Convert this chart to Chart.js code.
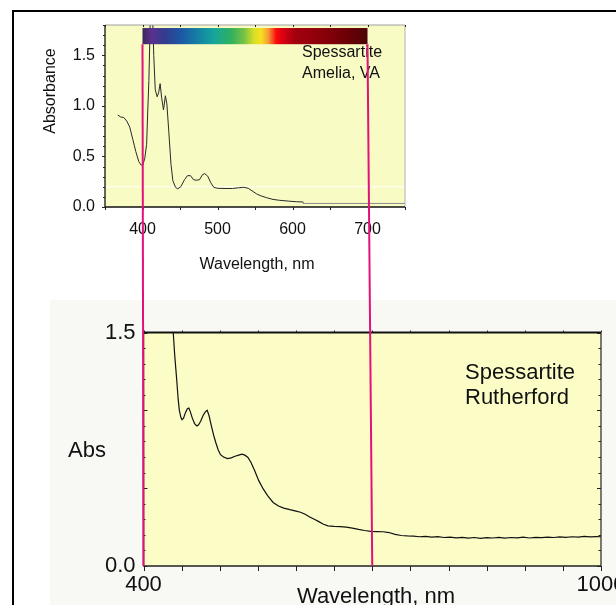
<!DOCTYPE html>
<html>
<head>
<meta charset="utf-8">
<script src="https://cdn.jsdelivr.net/npm/chart.js@4.4.0/dist/chart.umd.min.js"></script>
<style>
  html, body { margin: 0; padding: 0; background: #fff; }
  #page { position: relative; width: 616px; height: 605px; overflow: hidden; }
  #frame { position: absolute; left: 12px; top: 10px; right: -10px; bottom: -10px;
           border-left: 2px solid #000; border-top: 2px solid #000; }
  #inset { position: absolute; left: 0; top: 0; }
  #main { position: absolute; left: 50px; top: 300px; background: #f8f9f4; }
  #links { position: absolute; left: 0; top: 0; pointer-events: none; }
</style>
</head>
<body>
<div id="page">
  <div id="frame"></div>
  <canvas id="main" width="566" height="305"></canvas>
  <canvas id="inset" width="420" height="290"></canvas>
  <canvas id="links" width="616" height="605"></canvas>
</div>
<script>
// --- data ---
// small inset: Spessartite, Amelia VA
const insetWavelength = [367, 371, 375, 379, 383, 387, 391, 395, 398, 400.5, 403, 405.5, 407, 408.5, 410.5, 413, 415, 417,
  419.5, 421.5, 423.5, 425.5, 428, 430.5, 432.5, 435, 438, 440.5, 444, 447, 451, 456, 460, 464, 468, 472, 476, 480, 483,
  487, 491, 495, 500, 510, 520, 528, 535, 541, 546, 552, 558, 565, 574, 583, 595, 605, 614, 614.5, 750];
const insetAbs = [0.91, 0.89, 0.885, 0.85, 0.79, 0.67, 0.55, 0.45, 0.415, 0.415, 0.48, 0.62, 0.95, 1.25, 1.9, 2.0, 1.5, 1.16,
  1.09, 1.13, 1.22, 1.08, 0.96, 1.1, 1.02, 0.75, 0.42, 0.26, 0.195, 0.18, 0.2, 0.27, 0.31, 0.31, 0.27, 0.265, 0.27, 0.32, 0.33,
  0.305, 0.24, 0.195, 0.185, 0.183, 0.183, 0.19, 0.195, 0.185, 0.16, 0.13, 0.11, 0.093, 0.075, 0.066, 0.058, 0.052, 0.05, 0.035, 0.035];
const insetRefLevel = [0.2, 0.2];
const insetXTickLabels = ['400', '500', '600', '700'];
const insetYTickLabels = ['0.0', '0.5', '1.0', '1.5'];

// main panel: Spessartite, Rutherford
const mainWavelength = [435, 439, 441, 443.5, 445.5, 447, 449, 450.5, 452.5, 455, 457.5, 459.5, 461.5, 464, 467, 470, 472, 475,
  478, 481, 483.5, 486, 489, 492, 495, 498, 501, 505, 510, 515, 520, 525, 529, 533, 537, 541, 546, 551, 557, 563, 570, 577,
  584, 592, 600, 606, 612, 618, 624, 630, 636, 642, 650, 658, 666, 674, 682, 690, 698, 706, 714, 722, 730, 738, 746, 754,
  762, 770, 778, 786, 794, 802, 810, 818, 826, 834, 842, 850, 858, 866, 874, 882, 890, 898, 906, 914, 922, 930, 938, 946,
  954, 962, 970, 978, 986, 994, 1000];
const mainAbs = [1.8, 1.5, 1.35, 1.2, 1.07, 1.0, 0.955, 0.94, 0.95, 0.985, 1.01, 1.015, 0.99, 0.95, 0.915, 0.9, 0.905, 0.93,
  0.965, 0.99, 1.0, 0.965, 0.9, 0.84, 0.79, 0.745, 0.715, 0.7, 0.69, 0.695, 0.705, 0.712, 0.718, 0.712, 0.697, 0.665, 0.61,
  0.55, 0.495, 0.45, 0.408, 0.385, 0.372, 0.362, 0.353, 0.345, 0.332, 0.315, 0.3, 0.285, 0.268, 0.258, 0.255, 0.253, 0.25,
  0.243, 0.235, 0.228, 0.222, 0.221, 0.22, 0.215, 0.203, 0.196, 0.193, 0.192, 0.188, 0.19, 0.186, 0.189, 0.183, 0.186, 0.181,
  0.184, 0.179, 0.183, 0.178, 0.182, 0.18, 0.184, 0.179, 0.183, 0.181, 0.185, 0.18, 0.184, 0.182, 0.186, 0.183, 0.187,
  0.184, 0.188, 0.186, 0.19, 0.187, 0.189, 0.188];
const mainXTickLabels = ['400', '1000'];
const mainYTickLabels = ['0.0', '1.5'];

// visible-spectrum strip and the two guide wavelengths
const spectrumNm = [400, 412, 430, 452, 478, 496, 518, 535, 549, 558, 567, 574, 578, 586, 603, 640, 675, 700];
const spectrumColors = ['#3b2658', '#5a3190', '#313c8d', '#1d59a4', '#1388a3', '#16a69a', '#30b05e', '#74c245', '#d9df27',
  '#f6e01e', '#f4a334', '#f44a22', '#ff0a0a', '#de0012', '#a3000f', '#8a0008', '#690006', '#4c0406'];
const spectrumBand = [1.61, 1.77];
const linkNm = [400, 700];

const FONT = 'Liberation Sans, Arial, Helvetica, sans-serif';

function pickLabel(list, value) {
  const hit = list.find(s => Math.abs(parseFloat(s) - value) < 1e-6);
  return hit === undefined ? '' : hit;
}

function toPoints(xs, ys) {
  return xs.map((x, i) => ({ x: x, y: ys[i] }));
}

function drawTicks(chart, spec) {
  const ctx = chart.ctx, a = chart.chartArea;
  const scale = chart.scales[spec.axis];
  ctx.save();
  ctx.strokeStyle = '#222';
  ctx.lineWidth = 1;
  ctx.beginPath();
  scale.ticks.forEach(t => {
    const p = Math.round(scale.getPixelForValue(t.value)) + 0.5;
    const r = t.value / spec.majorEvery;
    const len = Math.abs(r - Math.round(r)) < 1e-6 ? spec.major : spec.minor;
    const d = spec.dir * len;
    if (spec.side === 'bottom') { ctx.moveTo(p, a.bottom); ctx.lineTo(p, a.bottom + d); }
    if (spec.side === 'top') { ctx.moveTo(p, a.top); ctx.lineTo(p, a.top - d); }
    if (spec.side === 'left') { ctx.moveTo(a.left, p); ctx.lineTo(a.left - d, p); }
    if (spec.side === 'right') { ctx.moveTo(a.right, p); ctx.lineTo(a.right + d, p); }
  });
  ctx.stroke();
  ctx.restore();
}

const plotDecor = {
  id: 'plotDecor',
  beforeDraw(chart, args, opts) {
    const a = chart.chartArea, ctx = chart.ctx;
    ctx.save();
    ctx.fillStyle = opts.plotBg;
    ctx.fillRect(a.left, a.top, a.right - a.left, a.bottom - a.top);
    ctx.restore();
  },
  afterDatasetsDraw(chart, args, opts) {
    const a = chart.chartArea, ctx = chart.ctx;
    if (opts.spectrum) {
      const xs = chart.scales.x, ys = chart.scales.y;
      const x0 = xs.getPixelForValue(spectrumNm[0]);
      const x1 = xs.getPixelForValue(spectrumNm[spectrumNm.length - 1]);
      const yTop = ys.getPixelForValue(spectrumBand[1]);
      const yBot = ys.getPixelForValue(spectrumBand[0]);
      const g = ctx.createLinearGradient(x0, 0, x1, 0);
      spectrumNm.forEach((nm, i) => {
        g.addColorStop((nm - spectrumNm[0]) / (spectrumNm[spectrumNm.length - 1] - spectrumNm[0]), spectrumColors[i]);
      });
      ctx.save();
      ctx.fillStyle = g;
      ctx.fillRect(x0, yTop, x1 - x0, yBot - yTop);
      ctx.restore();
    }
    // plot frame
    const f = opts.frame;
    ctx.save();
    [['top', a.left, a.top, a.right, a.top], ['right', a.right, a.top, a.right, a.bottom],
     ['bottom', a.left, a.bottom, a.right, a.bottom], ['left', a.left, a.top, a.left, a.bottom]].forEach(s => {
      const st = f[s[0]];
      ctx.strokeStyle = st[0];
      ctx.lineWidth = st[1];
      ctx.beginPath();
      ctx.moveTo(s[1], s[2]);
      ctx.lineTo(s[3], s[4]);
      ctx.stroke();
    });
    ctx.restore();
    opts.ticks.forEach(spec => drawTicks(chart, spec));
  },
  afterDraw(chart, args, opts) {
    const ctx = chart.ctx;
    opts.texts.forEach(t => {
      ctx.save();
      ctx.fillStyle = '#111';
      ctx.font = t.size + 'px ' + FONT;
      ctx.textAlign = t.align || 'center';
      ctx.textBaseline = 'middle';
      ctx.translate(t.x, t.y);
      if (t.rotate) ctx.rotate(t.rotate);
      ctx.fillText(t.text, 0, 0);
      ctx.restore();
    });
  }
};

// ---- inset chart ----
const insetChart = new Chart(document.getElementById('inset'), {
  type: 'line',
  data: {
    datasets: [
      {
        data: toPoints(insetWavelength, insetAbs),
        borderColor: '#2a2a2a',
        borderWidth: 1,
        pointRadius: 0,
        tension: 0,
        order: 0,
        segment: { borderColor: c => (c.p0.parsed.x >= 614 ? '#8c8c8c' : undefined) }
      },
      {
        data: toPoints([350, 750], insetRefLevel),
        borderColor: '#ffffff',
        borderWidth: 1,
        pointRadius: 0,
        order: 1
      }
    ]
  },
  options: {
    responsive: false,
    animation: false,
    events: [],
    layout: { padding: { left: 0, top: 25, right: 15, bottom: 0 } },
    plugins: {
      legend: { display: false },
      tooltip: { enabled: false },
      plotDecor: {
        plotBg: '#f8fbc4',
        spectrum: true,
        frame: { top: ['#a0a0a0', 1], right: ['#b0b0b0', 1], bottom: ['#111', 1.3], left: ['#111', 1.3] },
        ticks: [
          { axis: 'y', side: 'left', dir: 1, minor: 2, major: 3, majorEvery: 0.5 },
          { axis: 'x', side: 'bottom', dir: 1, minor: 3, major: 3, majorEvery: 100 },
          { axis: 'x', side: 'top', dir: -1, minor: 2, major: 2, majorEvery: 100 }
        ],
        texts: [
          { text: 'Absorbance', x: 51, y: 91, size: 16, rotate: -Math.PI / 2 },
          { text: 'Wavelength, nm', x: 257, y: 265, size: 16 },
          { text: 'Spessartite', x: 302, y: 53, size: 16, align: 'left' },
          { text: 'Amelia, VA', x: 302, y: 74, size: 16, align: 'left' }
        ]
      }
    },
    scales: {
      x: {
        type: 'linear', min: 350, max: 750,
        afterFit(s) { s.height = 83; s.paddingLeft = 0; s.paddingRight = 0; },
        grid: { display: false, drawTicks: false },
        border: { display: false },
        ticks: { stepSize: 50, autoSkip: false, maxRotation: 0, padding: 13, color: '#111',
                 font: { family: FONT, size: 16 }, callback: v => pickLabel(insetXTickLabels, v) }
      },
      y: {
        min: 0, max: 1.8,
        afterFit(s) { s.width = 105; s.paddingTop = 0; s.paddingBottom = 0; },
        grid: { display: false, drawTicks: false },
        border: { display: false },
        ticks: { stepSize: 0.1, autoSkip: false, padding: 10, color: '#111',
                 font: { family: FONT, size: 16 }, callback: v => pickLabel(insetYTickLabels, v) }
      }
    }
  },
  plugins: [plotDecor]
});

// ---- main chart ----
const mainChart = new Chart(document.getElementById('main'), {
  type: 'line',
  data: {
    datasets: [{
      data: toPoints(mainWavelength, mainAbs),
      borderColor: '#111',
      borderWidth: 1.2,
      pointRadius: 0,
      tension: 0
    }]
  },
  options: {
    responsive: false,
    animation: false,
    events: [],
    layout: { padding: { left: 0, top: 32.5, right: 15, bottom: 0 } },
    plugins: {
      legend: { display: false },
      tooltip: { enabled: false },
      plotDecor: {
        plotBg: '#fcfdc6',
        spectrum: false,
        frame: { top: ['#111', 1.8], right: ['#333', 1.3], bottom: ['#222', 1.5], left: ['#222', 1.5] },
        ticks: [
          { axis: 'y', side: 'left', dir: -1, minor: 2, major: 4, majorEvery: 0.5 },
          { axis: 'y', side: 'right', dir: -1, minor: 2.5, major: 4, majorEvery: 0.5 },
          { axis: 'x', side: 'bottom', dir: 1, minor: 5, major: 5, majorEvery: 100 },
          { axis: 'x', side: 'top', dir: 1, minor: 2, major: 2, majorEvery: 100 }
        ],
        texts: [
          { text: 'Abs', x: 37, y: 151, size: 22 },
          { text: 'Wavelength, nm', x: 326, y: 297, size: 22 },
          { text: 'Spessartite', x: 415, y: 73, size: 22, align: 'left' },
          { text: 'Rutherford', x: 415, y: 98, size: 22, align: 'left' }
        ]
      }
    },
    scales: {
      x: {
        type: 'linear', min: 400, max: 1000,
        afterFit(s) { s.height = 39; s.paddingLeft = 0; s.paddingRight = 0; },
        grid: { display: false, drawTicks: false },
        border: { display: false },
        ticks: { stepSize: 50, autoSkip: false, maxRotation: 0, padding: 6, color: '#111',
                 font: { family: FONT, size: 22 }, callback: v => pickLabel(mainXTickLabels, v) }
      },
      y: {
        min: 0, max: 1.5,
        afterFit(s) { s.width = 93.5; s.paddingTop = 0; s.paddingBottom = 0; },
        grid: { display: false, drawTicks: false },
        border: { display: false },
        ticks: { stepSize: 0.1, autoSkip: false, padding: 8, color: '#111',
                 font: { family: FONT, size: 22 }, callback: v => pickLabel(mainYTickLabels, v) }
      }
    }
  },
  plugins: [plotDecor]
});

// ---- magenta guides joining 400 and 700 nm on both panels ----
const insetPos = { left: 0, top: 0 };
const mainPos = { left: 50, top: 300 };
const lctx = document.getElementById('links').getContext('2d');
lctx.strokeStyle = '#e3127a';
lctx.lineWidth = 2;
linkNm.forEach(nm => {
  const xTop = insetPos.left + insetChart.scales.x.getPixelForValue(nm);
  const yTop = insetPos.top + insetChart.scales.y.getPixelForValue(spectrumBand[0]);
  const xBot = mainPos.left + mainChart.scales.x.getPixelForValue(nm);
  const yBot = mainPos.top + mainChart.scales.y.getPixelForValue(0);
  lctx.beginPath();
  lctx.moveTo(xTop, yTop);
  lctx.lineTo(xBot, yBot);
  lctx.stroke();
});
</script>
</body>
</html>
